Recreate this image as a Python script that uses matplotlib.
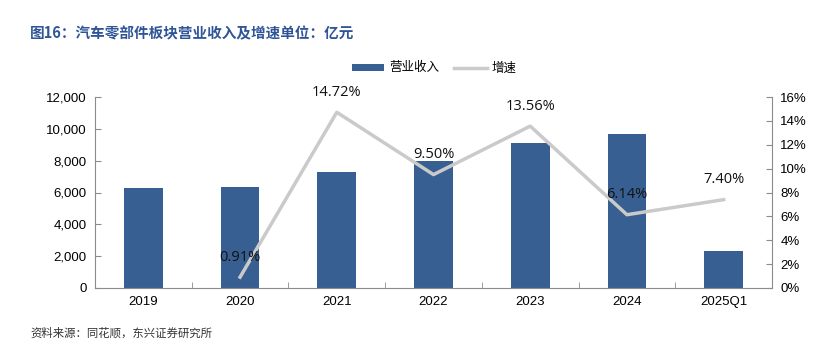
import matplotlib
matplotlib.use("Agg")
import matplotlib.pyplot as plt
from matplotlib.ticker import FuncFormatter, MultipleLocator

plt.rcParams['font.family'] = ['Liberation Sans', 'Noto Sans CJK SC', 'DejaVu Sans']

categories = ["2019", "2020", "2021", "2022", "2023", "2024", "2025Q1"]
revenue = [6300, 6370, 7310, 8000, 9090, 9680, 2300]
growth_x = ["2020", "2021", "2022", "2023", "2024", "2025Q1"]
growth = [0.91, 14.72, 9.50, 13.56, 6.14, 7.40]
growth_labels = ["0.91%", "14.72%", "9.50%", "13.56%", "6.14%", "7.40%"]

bar_color = "#375f91"
line_color = "#cacaca"
axis_color = "#8c8c8c"

fig = plt.figure(figsize=(8.22, 3.44), dpi=100)
ax = fig.add_axes([95/822, 1-288/344, (772-95)/822, (288-97)/344])
ax2 = ax.twinx()

xs = list(range(len(categories)))
ax.bar(xs, revenue, width=0.4, color=bar_color, zorder=2, label="营业收入")
ax.set_xlim(-0.5, len(categories)-0.5)
ax.set_ylim(0, 12000)
ax.yaxis.set_major_locator(MultipleLocator(2000))
ax.yaxis.set_major_formatter(FuncFormatter(lambda v, p: f"{int(v):,}"))
ax.set_xticks(xs)
ax.set_xticklabels(categories)
ax.set_xticks([x + 0.5 for x in xs[:-1]], minor=True)
ax.tick_params(axis='x', which='major', length=0, pad=6, labelsize=9.5)
ax.tick_params(axis='x', which='minor', length=4, direction='in', color=axis_color)
ax.tick_params(axis='y', length=4, direction='in', color=axis_color, labelsize=9.5, pad=6)

gx = [categories.index(c) for c in growth_x]
ax2.plot(gx, growth, color=line_color, lw=2.5, zorder=3, label="增速")
ax2.set_ylim(0, 16)
ax2.yaxis.set_major_locator(MultipleLocator(2))
ax2.yaxis.set_major_formatter(FuncFormatter(lambda v, p: f"{int(v)}%"))
ax2.tick_params(axis='y', length=4, direction='in', color=axis_color, labelsize=9.5, pad=6)
for x, y, t in zip(gx, growth, growth_labels):
    ax2.annotate(t, (x, y), xytext=(0, 9), textcoords='offset points',
                 ha='center', va='bottom', fontsize=10.5, color='#111111',
                 family=['Open Sans', 'DejaVu Sans'])

for a in (ax, ax2):
    a.spines['top'].set_visible(False)
    a.spines['left'].set_color(axis_color)
    a.spines['right'].set_color(axis_color)
    a.spines['bottom'].set_color(axis_color)
ax2.spines['left'].set_visible(False)
ax2.spines['bottom'].set_visible(False)
ax.spines['right'].set_visible(False)

h1, l1 = ax.get_legend_handles_labels()
h2, l2 = ax2.get_legend_handles_labels()
fig.legend(h1 + h2, l1 + l2, loc='center', bbox_to_anchor=(434/822, 1-68/344),
           ncol=2, frameon=False, handlelength=2.6, handleheight=0.5,
           columnspacing=1.2, handletextpad=0.4,
           prop={'family': ['Noto Sans CJK SC', 'DejaVu Sans'], 'size': 9})

fig.text(30/822, 1-33/344, "图16：汽车零部件板块营业收入及增速单位：亿元",
         fontsize=10.5, fontweight='bold', color='#2f5597', va='center', ha='left',
         family=['Noto Sans CJK SC', 'DejaVu Sans'])
fig.text(30/822, 1-333/344, "资料来源：同花顺，东兴证券研究所",
         fontsize=8.2, style='italic', color='#333333', va='center', ha='left',
         family=['Noto Sans CJK SC', 'DejaVu Sans'])

fig.savefig("out.png", dpi=100)
